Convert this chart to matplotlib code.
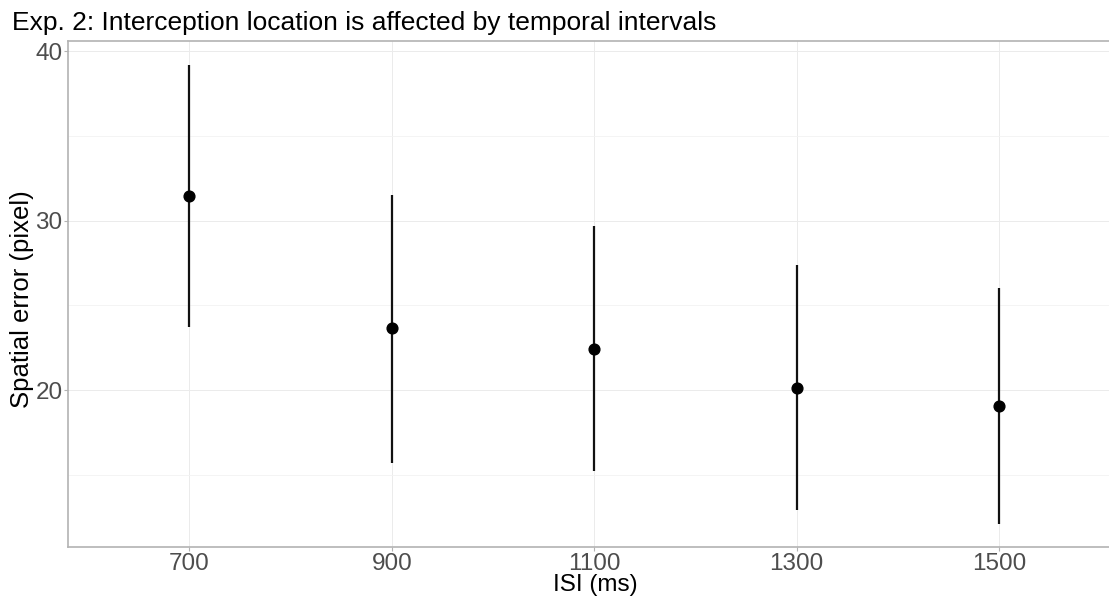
import matplotlib
matplotlib.use('Agg')
import matplotlib.pyplot as plt
from matplotlib.ticker import MultipleLocator

plt.rcParams['font.family'] = ['Liberation Sans', 'DejaVu Sans']

# data
isi = ['700', '900', '1100', '1300', '1500']
mean_err = [31.45, 23.65, 22.4, 20.15, 19.05]
upper = [39.2, 31.5, 29.7, 27.4, 26.0]
lower = [23.7, 15.7, 15.2, 12.9, 12.1]


def main():
    fig = plt.figure(figsize=(11.09, 5.98), dpi=100)
    # right edge of the panel runs past the figure (cropped like the original)
    ax = fig.add_axes([0.0613, 0.0853, 0.97, 0.846])

    x = list(range(len(isi)))
    ax.vlines(x, lower, upper, color='#111111', linewidth=1.6, zorder=3)
    ax.scatter(x, mean_err, s=60, color='black', zorder=4)

    ax.set_xlim(-0.6, -0.6 + 5.2 * 0.97 / 0.949)
    ax.set_ylim(10.74, 40.6)
    ax.set_xticks(x)
    ax.set_xticklabels(isi)
    ax.yaxis.set_major_locator(MultipleLocator(10))
    ax.yaxis.set_minor_locator(MultipleLocator(5))

    # ggplot theme_light look
    for s in ax.spines.values():
        s.set_color('#B3B3B3')
        s.set_linewidth(1.2)
    ax.spines['right'].set_visible(False)
    ax.grid(which='major', color='#EBEBEB', linewidth=0.7)
    ax.grid(which='minor', axis='y', color='#F3F3F3', linewidth=0.6)
    ax.set_axisbelow(True)
    ax.tick_params(which='major', length=3, color='#B3B3B3', labelsize=17.5,
                   labelcolor='#4D4D4D', pad=1)
    ax.tick_params(which='minor', length=0)

    fig.text(595 / 1109, 1 - 585 / 598, 'ISI (ms)', fontsize=17.5,
             ha='center', va='center')
    fig.text(22 / 1109, 1 - 299 / 598, 'Spatial error (pixel)', fontsize=18.5,
             rotation=90, ha='center', va='center')
    fig.text(0.011, 0.962, 'Exp. 2: Interception location is affected by temporal intervals',
             fontsize=19, va='center', ha='left')

    fig.savefig('out.png', dpi=100)


if __name__ == '__main__': main()
